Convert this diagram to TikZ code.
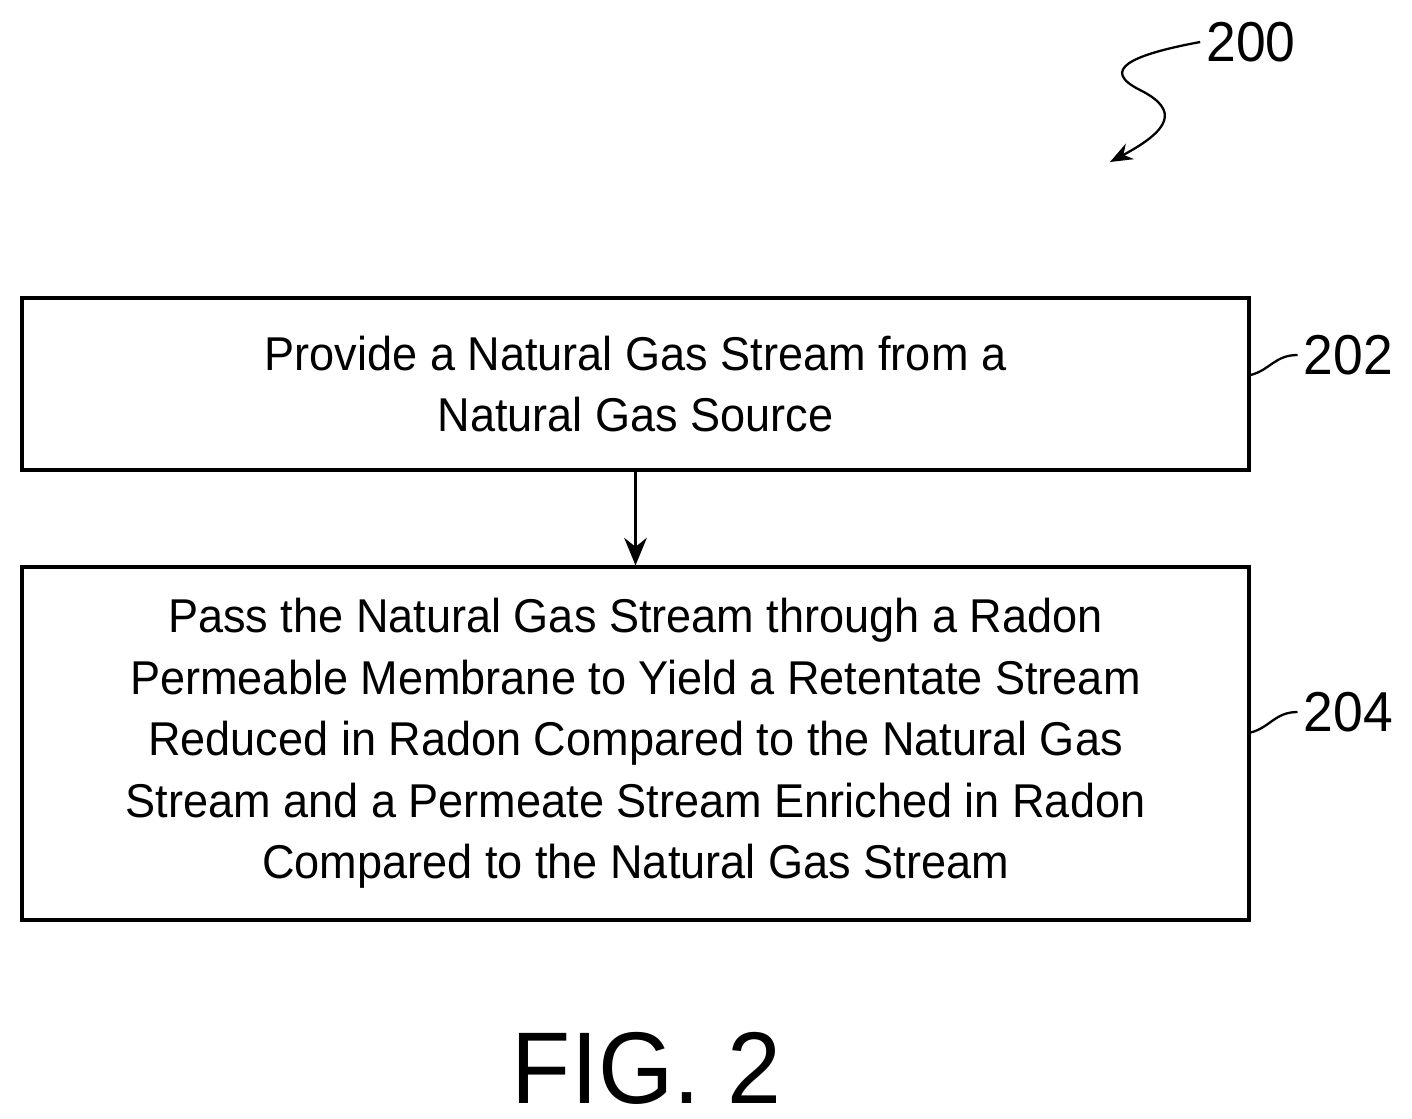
\documentclass[tikz,border=0pt]{standalone}
\usepackage{fontspec}
\setmainfont{Liberation Sans}[FakeStretch=0.95]
\usetikzlibrary{arrows.meta}
\tikzset{step box/.style={draw,line width=1.8pt,fill=none,
                          minimum width=24.54cm,align=center,
                          font=\fontsize{27}{35}\selectfont}}
\tikzset{ref label/.style={font=\fontsize{32}{38}\selectfont,anchor=west}}
\tikzset{leader/.style={line width=1.3pt}}
\begin{document}
\begin{tikzpicture}
    \useasboundingbox (0,0) rectangle (28.24,-22.36);
    % Draw process steps
    \node[step box,minimum height=3.44cm] (provide) at (12.71,-7.68)
        {Provide a Natural Gas Stream from a\\Natural Gas Source};
    \node[step box,minimum height=7.06cm] (pass) at (12.71,-14.87)
        {Pass the Natural Gas Stream through a Radon\\
         Permeable Membrane to Yield a Retentate Stream\\
         Reduced in Radon Compared to the Natural Gas\\
         Stream and a Permeate Stream Enriched in Radon\\
         Compared to the Natural Gas Stream};
    % Connect steps
    \draw[line width=1.8pt,-{Stealth[length=0.55cm,width=0.45cm]}] (provide) -- (pass);
    % Reference numerals
    \node[ref label] (r202) at (25.95,-7.1) {202};
    \node[ref label] (r204) at (25.95,-14.24) {204};
    \draw[leader] (provide.east |- 0,-7.5) .. controls (25.4,-7.4) and (25.5,-7.1) .. (r202.west);
    \draw[leader] (pass.east |- 0,-14.65) .. controls (25.4,-14.55) and (25.5,-14.24) .. (r204.west);
    % Figure numeral with squiggle arrow
    \node[ref label,anchor=center] (r200) at (25.02,-0.84) {200};
    \coordinate (tip) at (22.2,-3.24);
    \draw[leader,-{Stealth[length=0.45cm,width=0.35cm]}] (r200.west)
        .. controls (22.6,-1.1) and (22.0,-1.4) .. (22.8,-1.8)
        .. controls (23.6,-2.2) and (23.4,-2.6) .. (tip);
    % Caption
    \node[font=\fontsize{58}{66}\selectfont] (caption) at (12.93,-21.36) {FIG. 2};
\end{tikzpicture}
\end{document}
